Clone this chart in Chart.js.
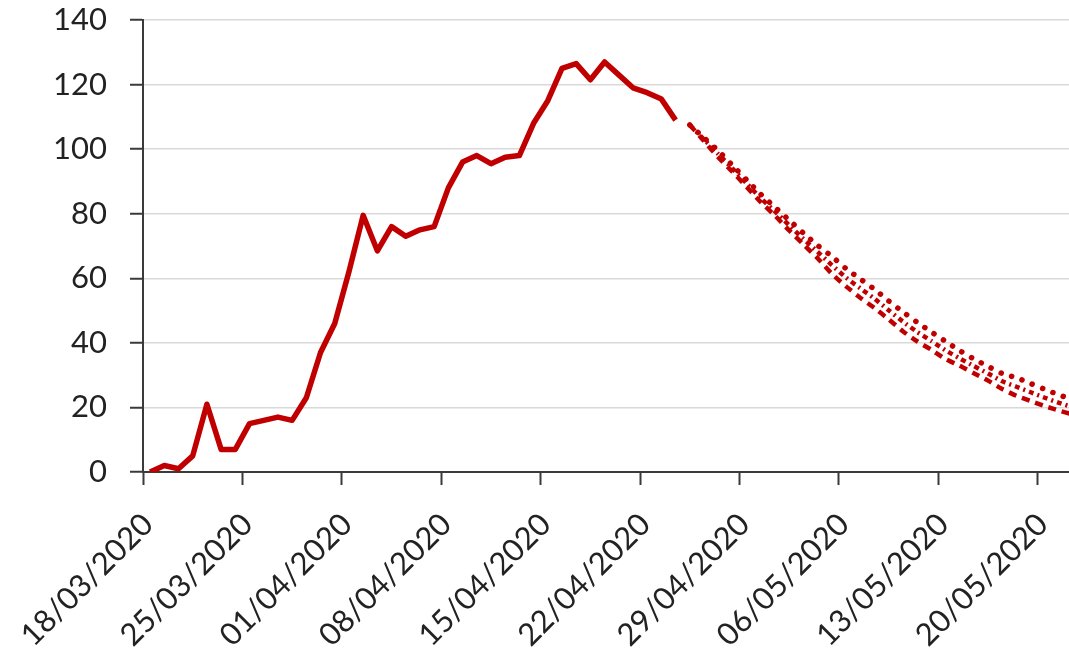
<!DOCTYPE html>
<html>
<head>
<meta charset="utf-8">
<script src="https://cdn.jsdelivr.net/npm/chart.js@4"></script>
<style>
  html, body { margin: 0; padding: 0; background: #fff; overflow: hidden; }
  #wrap { width: 1069px; height: 652px; }
</style>
</head>
<body>
<div id="wrap"><canvas id="chart" width="1069" height="652"></canvas></div>
<script>
// Week tick labels (one every 7 days from 18/03/2020)
const weekLabels = ['18/03/2020', '25/03/2020', '01/04/2020', '08/04/2020', '15/04/2020',
                    '22/04/2020', '29/04/2020', '06/05/2020', '13/05/2020', '20/05/2020'];

// Observed daily values, day 0 = 18/03/2020
const observed = [0, 2, 1, 5, 21, 7, 7, 15, 16, 17, 16, 23, 37, 46, 62, 79.5, 68.5, 76, 73, 75,
                  76, 88, 96, 98, 95.5, 97.5, 98, 108, 115, 125, 126.5, 121.5, 127, 123, 119, 117.5,
                  115.5, 109];

// Projections start on day 38 (25/04/2020)
const projStart = 38;
const projUpper = [107.5, 103.5, 99.5, 95, 90.5, 86, 82, 78, 74, 70.2, 66.8, 63, 59.8, 56.6, 53,
                   49.6, 46.4, 43.4, 40.5, 37.6, 35, 32.7, 30.5, 29.2, 27.4, 25.6, 23.9, 22.3];
const projMid = [107.5, 103, 98.5, 94, 89.4, 84.8, 80.7, 76.4, 72.2, 68.2, 64.1, 60.2, 56.9, 53.7, 50.1,
                 46.6, 43.4, 40.6, 37.7, 35.2, 32.8, 30.5, 28.1, 26.4, 24.7, 23, 21.4, 20];
const projLower = [107.5, 102.5, 97.5, 93, 88.3, 83.6, 79.4, 74.8, 70.5, 66.2, 61.4, 57.5, 54, 50.8,
                   47.3, 43.6, 40.5, 37.9, 35, 32.9, 30.6, 28.3, 25.7, 23.6, 22, 20.4, 19, 17.8];

const red = '#c00000';
const axisColor = '#3a3a3a';
const textColor = '#222222';
const fontFamily = 'Lato, "Open Sans", sans-serif';

// each day sits in the middle of its slot on the date axis
function toPoints(values, startDay) {
    return values.map((v, i) => ({x: startDay + i + 0.5, y: v}));
}

const ctx = document.getElementById('chart').getContext('2d');
new Chart(ctx, {
    type: 'line',
    data: {
        datasets: [{
            data: toPoints(observed, 0),
            borderColor: red,
            borderWidth: 5.5,
            borderJoinStyle: 'round',
            pointRadius: 0,
            tension: 0
        }, {
            data: toPoints(projUpper, projStart),
            borderColor: red,
            borderWidth: 5.5,
            borderDash: [0.1, 11],
            borderCapStyle: 'round',
            pointRadius: 0,
            tension: 0.2
        }, {
            data: toPoints(projMid, projStart),
            borderColor: red,
            borderWidth: 4.5,
            borderDash: [5, 4, 2, 4],
            pointRadius: 0,
            tension: 0.2
        }, {
            data: toPoints(projLower, projStart),
            borderColor: red,
            borderWidth: 4.5,
            borderDash: [8, 6],
            pointRadius: 0,
            tension: 0.2
        }]
    },
    options: {
        responsive: false,
        animation: false,
        layout: {padding: 0},
        plugins: {legend: {display: false}, tooltip: {enabled: false}},
        scales: {
            x: {
                type: 'linear',
                min: 0,
                max: 65.2,
                afterFit: (scale) => { scale.height = 180; scale.paddingRight = 0; },
                border: {color: axisColor, width: 2},
                grid: {drawOnChartArea: false, tickLength: 13, tickColor: axisColor, tickWidth: 2},
                ticks: {
                    stepSize: 7,
                    includeBounds: false,
                    autoSkip: false,
                    minRotation: 45,
                    maxRotation: 45,
                    labelOffset: 5,
                    padding: 21,
                    color: textColor,
                    font: {family: fontFamily, size: 31},
                    callback: (value) => weekLabels[Math.round(value / 7)] || ''
                }
            },
            y: {
                min: 0,
                max: 140,
                afterFit: (scale) => { scale.width = 143; scale.paddingTop = 20; },
                border: {color: axisColor, width: 2},
                grid: {color: '#d9d9d9', lineWidth: 1.5, tickLength: 13, tickColor: axisColor, tickWidth: 2},
                ticks: {
                    stepSize: 20,
                    padding: 23,
                    color: textColor,
                    font: {family: fontFamily, size: 31}
                }
            }
        }
    }
});
</script>
</body>
</html>
